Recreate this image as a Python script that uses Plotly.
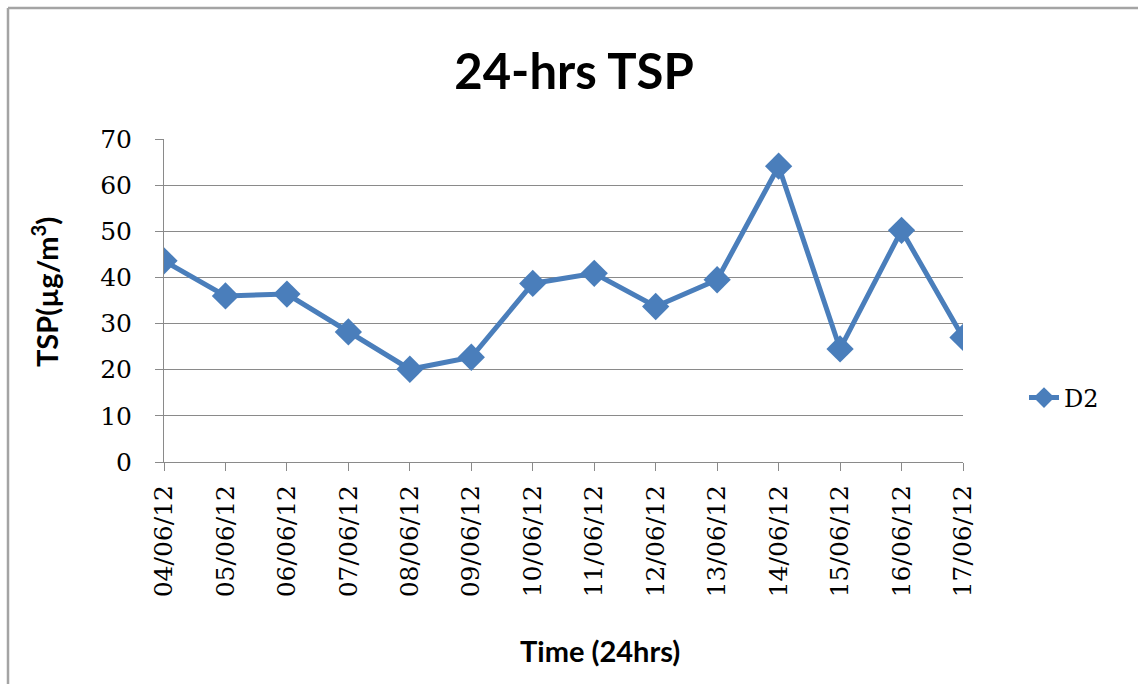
import plotly.graph_objects as go

# Daily 24-hour TSP concentrations at station D2
dates = ["04/06/12", "05/06/12", "06/06/12", "07/06/12", "08/06/12", "09/06/12",
         "10/06/12", "11/06/12", "12/06/12", "13/06/12", "14/06/12", "15/06/12",
         "16/06/12", "17/06/12"]
tsp_d2 = [43.6, 36.0, 36.4, 28.2, 20.1, 22.7, 38.7, 40.9, 33.7, 39.5, 64.1, 24.5, 50.2, 27.0]
y_ticks = [0, 10, 20, 30, 40, 50, 60, 70]

W, H = 1138, 684
L, R, T, B = 164, 175, 139, 222
pw, ph = W - L - R, H - T - B

def px_x(x):
    return (x - L) / pw

def px_y(y):
    return (H - B - y) / ph

blue = "#4a7ebb"
grid = "#8a8a8a"
frame = "#a4a4a4"
serif = "'DejaVu Serif', 'Liberation Serif', serif"
sans = "Lato, 'Open Sans', sans-serif"

fig = go.Figure()
fig.add_trace(go.Scatter(
    x=dates, y=tsp_d2, name="D2", mode="lines+markers",
    line=dict(color=blue, width=5),
    marker=dict(symbol="diamond", size=21, color=blue),
))

fig.update_layout(
    width=W, height=H,
    margin=dict(l=L, r=R, t=T, b=B),
    paper_bgcolor="white", plot_bgcolor="white",
    showlegend=True,
    title=dict(text="<b>24-hrs TSP</b>", x=574 / W, xanchor="center",
               y=1 - 72 / H, yanchor="middle",
               font=dict(family=sans, size=49, color="black")),
    legend=dict(x=px_x(1024), xanchor="left", y=px_y(398), yanchor="middle",
                font=dict(family=serif, size=24, color="black"),
                bgcolor="rgba(0,0,0,0)"),
    xaxis=dict(
        type="category", range=[0, len(dates) - 1],
        showgrid=False, showline=True, linecolor=grid, linewidth=1,
        ticks="outside", ticklen=8, tickcolor=grid, ticklabelstandoff=4,
        tickangle=-90, tickfont=dict(family=serif, size=25, color="black"),
        zeroline=False, fixedrange=True,
    ),
    yaxis=dict(
        range=[0, 70], tickvals=y_ticks,
        showgrid=True, gridcolor=grid, gridwidth=1,
        showline=True, linecolor=grid, linewidth=1,
        ticks="outside", ticklen=8, tickcolor=grid, ticklabelstandoff=18,
        tickfont=dict(family=serif, size=25, color="black"),
        zeroline=False, fixedrange=True,
    ),
    annotations=[
        dict(text="<b>Time (24hrs)</b>", xref="paper", yref="paper",
             x=px_x(600), y=px_y(650), xanchor="center", yanchor="middle",
             showarrow=False, font=dict(family=sans, size=29, color="black")),
        dict(text="<b>TSP(µg/m<sup>3</sup>)</b>", xref="paper", yref="paper",
             x=px_x(45), y=px_y(292), xanchor="center", yanchor="middle",
             textangle=-90, showarrow=False,
             font=dict(family=sans, size=29, color="black")),
    ],
    shapes=[
        dict(type="line", xref="paper", yref="paper",
             x0=px_x(8), y0=px_y(8), x1=px_x(W), y1=px_y(8),
             line=dict(color=frame, width=2.5), layer="below"),
        dict(type="line", xref="paper", yref="paper",
             x0=px_x(8), y0=px_y(8), x1=px_x(8), y1=px_y(H),
             line=dict(color=frame, width=2.5), layer="below"),
    ],
)

fig.write_html("out.html")
